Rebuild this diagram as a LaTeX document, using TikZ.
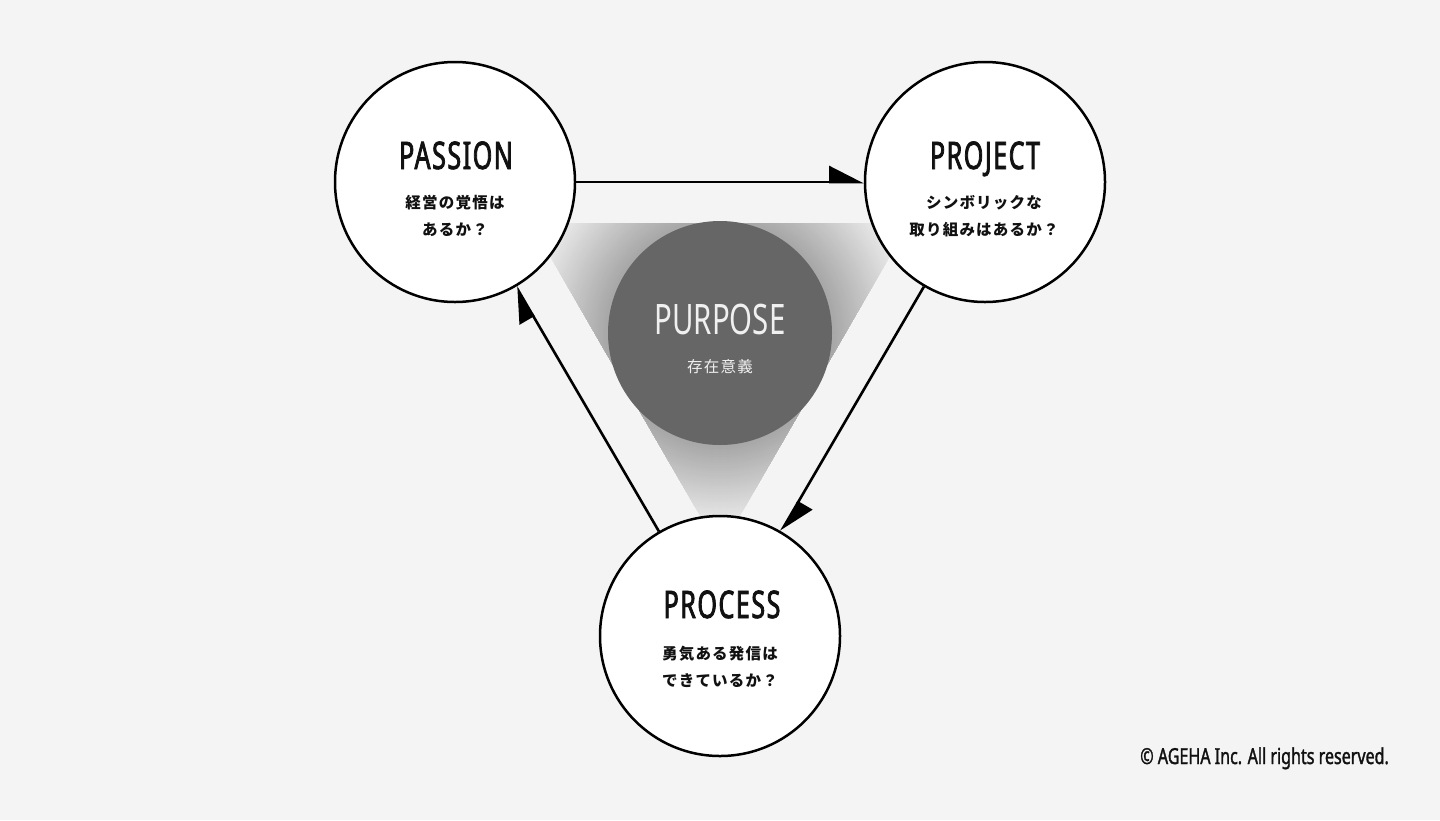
\documentclass[tikz,border=0pt]{standalone}
\usepackage{fontspec}
\usetikzlibrary{arrows.meta}
\newfontfamily\condfont[FakeStretch=0.66, FakeBold=2, LetterSpace=4]{Noto Sans}
\newfontfamily\thinfont[FakeStretch=0.7]{Noto Sans}
\newfontfamily\creditfont[FakeStretch=0.73, FakeBold=1.5]{Noto Sans}
\newfontfamily\jpfont[LetterSpace=8]{Noto Sans CJK JP}
\definecolor{bgc}{HTML}{F4F4F4}
\definecolor{glowA}{HTML}{A4A4A4}
\definecolor{glowB}{HTML}{E9E9E9}
\definecolor{purposec}{HTML}{666666}
\definecolor{inkc}{HTML}{111111}
\tikzset{
  bubble/.style={circle, draw=black, line width=2.5pt, fill=white, minimum size=240pt, inner sep=0pt},
  core/.style={circle, fill=purposec, minimum size=224pt, inner sep=0pt},
  flow/.style={line width=2.6pt, draw=black, -{Triangle[harpoon, length=32pt, width=32pt]}},
  title/.style={font=\condfont\fontsize{38}{40}\selectfont, text=inkc, inner sep=0pt, anchor=base},
  coretitle/.style={font=\thinfont\fontsize{42}{44}\selectfont, text=white!94!black, inner sep=0pt, anchor=base},
  sub/.style={font=\jpfont\bfseries\fontsize{15.5}{18}\selectfont, text=inkc, inner sep=0pt},
  coresub/.style={font=\jpfont\fontsize{15.5}{18}\selectfont, text=white!94!black, inner sep=0pt},
  credit/.style={font=\creditfont\fontsize{22}{24}\selectfont, text=inkc, inner sep=0pt, anchor=base east}
}
\begin{document}
\begin{tikzpicture}[x=1pt, y=-1pt]
  \useasboundingbox (0,0) rectangle (1440,820);
  \fill[bgc] (0,0) rectangle (1440,820);
  % glow triangle
  \begin{scope}
    \clip (531,223) -- (909,223) -- (720,550) -- cycle;
    \fill[glowB] (531,223) -- (909,223) -- (720,550) -- cycle;
    \foreach \i in {0,...,40} {
      \pgfmathsetmacro{\rad}{190-2*\i}
      \pgfmathsetmacro{\mix}{100*\i/40}
      \fill[glowA!\mix!glowB] (720,333) circle (\rad pt);
    }
  \end{scope}
  % nodes
  \node[core] (purpose) at (720,333) {};
  \node[bubble] (passion) at (455,182) {};
  \node[bubble] (project) at (985,182) {};
  \node[bubble] (process) at (720,636) {};
  % connectors
  \draw[flow] (passion) -- (project);
  \draw[flow] (project) -- (process);
  \draw[flow] (process) -- (passion);
  % texts
  \node[coretitle] (purposeT) at (720,334) {PURPOSE};
  \node[coresub] (purposeS) at (720,367) {存在意義};
  \node[title] (passionT) at (456,169) {PASSION};
  \node[sub] (passionS1) at (455,203) {経営の覚悟は};
  \node[sub] (passionS2) at (455,230) {あるか？};
  \node[title] (projectT) at (985,169) {PROJECT};
  \node[sub] (projectS1) at (984,203) {シンボリックな};
  \node[sub] (projectS2) at (984,230) {取り組みはあるか？};
  \node[title] (processT) at (722,618) {PROCESS};
  \node[sub] (processS1) at (720,654) {勇気ある発信は};
  \node[sub] (processS2) at (720,681) {できているか？};
  \node[credit] (credit) at (1389,764) {© AGEHA Inc. All rights reserved.};
\end{tikzpicture}
\end{document}
